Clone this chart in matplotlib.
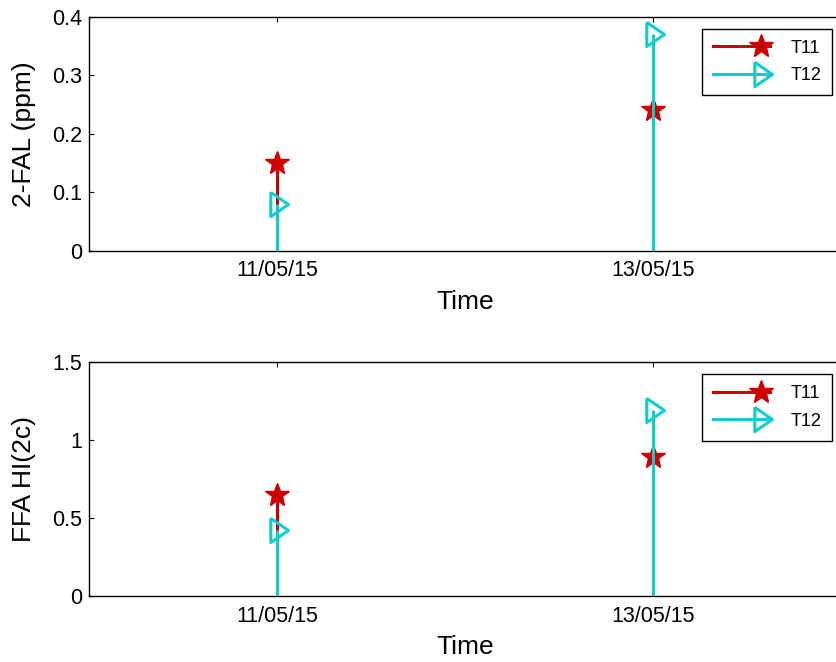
import matplotlib
matplotlib.use("Agg")
import matplotlib.pyplot as plt
from matplotlib.lines import Line2D
from matplotlib.legend_handler import HandlerBase

plt.rcParams['font.family'] = ['Liberation Sans', 'DejaVu Sans']

# Sampling days (May 2015) and their tick labels
days = [11, 13]
day_labels = ['11/05/15', '13/05/15']

# 2-FAL content (ppm)
fal_t11 = [0.15, 0.24]
fal_t12 = [0.08, 0.37]

# FFA health index
ffa_t11 = [0.65, 0.89]
ffa_t12 = [0.42, 1.19]

series_names = ['T11', 'T12']

RED = '#CC0000'
CYAN = '#11CCCC'
# right-pointing triangle, a little narrower than it is tall
TRI = [(-0.55, 1.0), (-0.55, -1.0), (0.9, 0.0), (-0.55, 1.0)]

STYLE = {
    'T11': dict(color=RED, marker='*', ms=18, mfc=RED, mec=RED, mew=1.0),
    'T12': dict(color=CYAN, marker=TRI, ms=17.5, mfc='none', mec=CYAN, mew=2.2),
}


class StemKeyHandler(HandlerBase):
    """Legend key: a horizontal stem with its marker near the right end."""

    def create_artists(self, legend, orig_handle, xdescent, ydescent,
                       width, height, fontsize, trans):
        y = height / 2 - ydescent
        x0 = -xdescent
        line = Line2D([x0, x0 + width], [y, y],
                      color=orig_handle.get_color(),
                      lw=orig_handle.get_linewidth(), transform=trans)
        mark = Line2D([x0 + 0.84 * width], [y], linestyle='none',
                      marker=orig_handle.get_marker(),
                      markersize=orig_handle.get_markersize(),
                      mfc=orig_handle.get_markerfacecolor(),
                      mec=orig_handle.get_markeredgecolor(),
                      mew=orig_handle.get_markeredgewidth(),
                      transform=trans)
        return [line, mark]


def stem_panel(ax, v11, v12, ylim, yticks, ylabel):
    handles = []
    z = 2
    for name, vals in zip(series_names, (v11, v12)):
        st = STYLE[name]
        ax.vlines(days, 0, vals, color=st['color'], lw=2.2, zorder=z)
        ax.plot(days, vals, linestyle='none', marker=st['marker'],
                ms=st['ms'], mfc=st['mfc'], mec=st['mec'], mew=st['mew'],
                zorder=z + 1, clip_on=False)
        handles.append(Line2D([], [], color=st['color'], lw=2.2,
                              marker=st['marker'], ms=st['ms'],
                              mfc=st['mfc'], mec=st['mec'], mew=st['mew']))
        z += 2

    ax.set_xlim(10, 14)
    ax.set_xticks(days)
    ax.set_xticklabels(day_labels)
    ax.set_ylim(*ylim)
    ax.set_yticks(yticks)
    ax.set_yticklabels([f'{t:g}' for t in yticks])
    ax.tick_params(direction='in', length=3.5, width=0.8, labelsize=15.5,
                   top=True, right=True, colors='black')
    ax.tick_params(axis='x', pad=7)
    ax.tick_params(axis='y', pad=5)
    for sp in ax.spines.values():
        sp.set_linewidth(1.0)
        sp.set_color('black')

    ax.set_xlabel('Time', fontsize=19)
    ax.xaxis.set_label_coords(0.5, -0.218)
    ax.xaxis.label.set_va('center')
    ax.set_ylabel(ylabel, fontsize=19)
    ax.yaxis.set_label_coords(-0.086, 0.5)
    ax.yaxis.label.set_va('center')

    leg = ax.legend(handles, series_names, loc='upper right',
                    bbox_to_anchor=(1 - 9 / 752, 1 - 12 / 234),
                    borderaxespad=0, fontsize=13, handlelength=3.2,
                    handletextpad=1.1, borderpad=0.6, labelspacing=0.6,
                    fancybox=False, framealpha=1, edgecolor='black',
                    handler_map={Line2D: StemKeyHandler()})
    leg.get_frame().set_linewidth(1.0)


fig = plt.figure(figsize=(8.37, 6.62), dpi=100)
ax_top = fig.add_axes([89 / 837, 1 - 250.7 / 662, 752 / 837, 234 / 662])
ax_bot = fig.add_axes([89 / 837, 1 - 596 / 662, 752 / 837, 234 / 662])

stem_panel(ax_top, fal_t11, fal_t12, (0, 0.4), [0, 0.1, 0.2, 0.3, 0.4],
           '2-FAL (ppm)')
stem_panel(ax_bot, ffa_t11, ffa_t12, (0, 1.5), [0, 0.5, 1, 1.5],
           'FFA HI(2c)')

fig.savefig('out.png', dpi=100)
